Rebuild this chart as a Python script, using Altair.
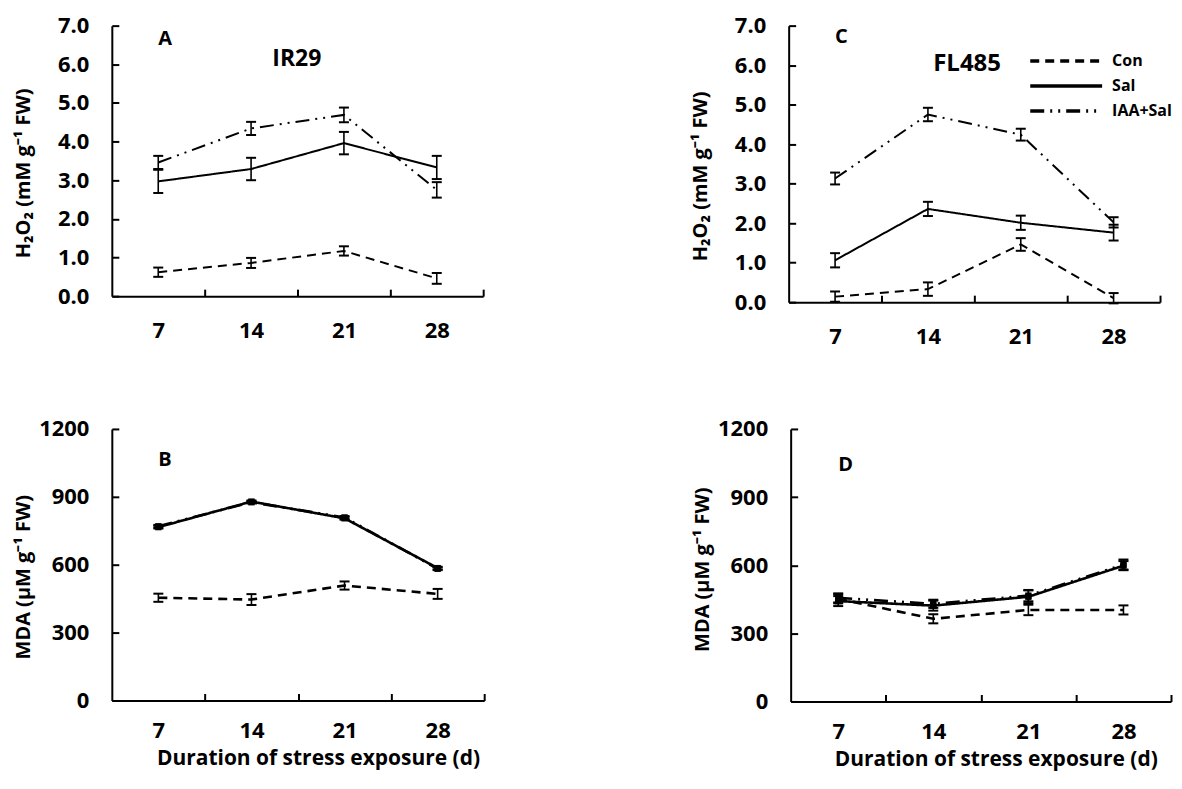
import altair as alt
import pandas as pd

days = [7, 14, 21, 28]
series = ["Con", "Sal", "IAA+Sal"]
x_boundaries = [10.5, 17.5, 24.5, 31.5]

# Panel A: IR29, H2O2 (mM g-1 FW)
a_con = [0.62, 0.86, 1.17, 0.46]
a_con_err = [0.12, 0.13, 0.12, 0.14]
a_sal = [2.97, 3.29, 3.96, 3.33]
a_sal_err = [0.30, 0.29, 0.29, 0.30]
a_iaa = [3.46, 4.34, 4.69, 2.75]
a_iaa_err = [0.17, 0.17, 0.19, 0.20]

# Panel C: FL485, H2O2
c_con = [0.14, 0.33, 1.46, 0.10]
c_con_err = [0.13, 0.17, 0.16, 0.13]
c_sal = [1.06, 2.36, 2.01, 1.76]
c_sal_err = [0.18, 0.18, 0.18, 0.20]
c_iaa = [3.13, 4.75, 4.24, 2.02]
c_iaa_err = [0.15, 0.17, 0.15, 0.13]

# Panel B: IR29, MDA (uM g-1 FW)
b_con = [454, 446, 508, 471]
b_con_err = [18, 24, 18, 22]
b_sal = [766, 879, 805, 585]
b_sal_err = [6, 5, 6, 6]
b_iaa = [770, 876, 809, 582]
b_iaa_err = [6, 5, 6, 6]

# Panel D: FL485, MDA
d_con = [452, 364, 403, 403]
d_con_err = [20, 20, 23, 20]
d_sal = [442, 422, 461, 598]
d_sal_err = [22, 22, 28, 20]
d_iaa = [456, 430, 466, 603]
d_iaa_err = [20, 18, 25, 22]

# Panel annotations (data coordinates)
notes_a = pd.DataFrame({"x": [7, 15.6], "y": [6.65, 6.14], "t": ["A", "IR29"], "fs": [20, 23]})
notes_c = pd.DataFrame({"x": [7, 14.4], "y": [6.7, 6.04], "t": ["C", "FL485"], "fs": [20, 24]})
notes_b = pd.DataFrame({"x": [7], "y": [1063], "t": ["B"], "fs": [20]})
notes_d = pd.DataFrame({"x": [7], "y": [1040], "t": ["D"], "fs": [20]})

FONT = "Open Sans"
dash_scale = alt.Scale(domain=series, range=[[9, 6], [1, 0], [14, 6, 2, 6, 2, 6]])


def long_df(vals, errs):
    rows = []
    for s, v, e in zip(series, vals, errs):
        for d, vv, ee in zip(days, v, e):
            rows.append({"day": d, "series": s, "value": vv, "lo": vv - ee, "hi": vv + ee})
    return pd.DataFrame(rows)


def caps_df(df):
    lo = df[["day", "series", "lo"]].rename(columns={"lo": "cap"})
    hi = df[["day", "series", "hi"]].rename(columns={"hi": "cap"})
    return pd.concat([lo, hi], ignore_index=True)


def panel(df, notes, w, h, ymax, ystep, yfmt, ytitle, ytitle_shift, xtitle=None,
          xtitle_shift=0, legend=None, markers=False, lw=2.0, xlab_pad=24):
    xs = alt.Scale(domain=[3.5, 31.5], nice=False, zero=False)
    ys = alt.Scale(domain=[0, ymax], nice=False, zero=True)
    yvals = [i * ystep for i in range(int(round(ymax / ystep)) + 1)]
    x_axis_kw = dict(values=days, ticks=False, tickSize=0, labelPadding=xlab_pad,
                     labelFontSize=22, labelFlush=False, domainWidth=2, grid=False)
    if xtitle:
        x_axis_kw.update(titleFontSize=21, titlePadding=6, titleX=w / 2 + xtitle_shift)
    x_main = alt.X("day:Q", scale=xs, axis=alt.Axis(**x_axis_kw), title=xtitle)
    y_main = alt.Y("value:Q", scale=ys, title=ytitle,
                   axis=alt.Axis(values=yvals, format=yfmt, ticks=False, tickSize=0,
                                 labelPadding=23, labelFontSize=22, domainWidth=2,
                                 grid=False, minExtent=76, maxExtent=76,
                                 titlePadding=2, titleFontSize=20,
                                 titleY=h / 2 + ytitle_shift))
    dash = alt.StrokeDash("series:N", scale=dash_scale, legend=legend)
    lines = alt.Chart(df).mark_line(color="black", strokeWidth=lw).encode(
        x=x_main, y=y_main, strokeDash=dash)
    x_tick = alt.X("day:Q", scale=xs, title=None,
                   axis=alt.Axis(orient="top", offset=-h, values=x_boundaries, labels=False,
                                 domain=False, tickSize=7, tickWidth=2, grid=False))
    y_tick = alt.Y("lo:Q", scale=ys, title=None,
                   axis=alt.Axis(orient="right", offset=-w, values=yvals, labels=False,
                                 domain=False, tickSize=7, tickWidth=2, grid=False))
    stems = alt.Chart(df).mark_rule(color="black", strokeWidth=1.6).encode(
        x=x_tick, y=y_tick, y2="hi:Q")
    caps = alt.Chart(caps_df(df)).mark_tick(color="black", orient="horizontal", size=10,
                                            thickness=2, opacity=1).encode(
        x=alt.X("day:Q", scale=xs, axis=None), y=alt.Y("cap:Q", scale=ys, axis=None))
    layers = [lines, stems, caps]
    if markers:
        mk = alt.Chart(df[df.series != "Con"]).mark_square(color="black", size=40, opacity=1).encode(
            x=alt.X("day:Q", scale=xs, axis=None), y=alt.Y("value:Q", scale=ys, axis=None))
        layers.append(mk)
    txt = alt.Chart(notes).mark_text(align="left", baseline="middle", font=FONT,
                                     fontWeight="bold", color="black").encode(
        x=alt.X("x:Q", scale=xs, axis=None), y=alt.Y("y:Q", scale=ys, axis=None),
        text="t:N", size=alt.Size("fs:Q", scale=None, legend=None))
    layers.append(txt)
    return alt.layer(*layers).properties(width=w, height=h).resolve_axis(
        x="independent", y="independent")


legend_c = alt.Legend(title=None, orient="none", legendX=240, legendY=23,
                      symbolType="stroke", symbolSize=5184, symbolStrokeWidth=3.5,
                      symbolStrokeColor="black", labelFont=FONT, labelFontSize=16,
                      labelFontWeight="bold", labelColor="black", labelOffset=8,
                      clipHeight=25, padding=0, rowPadding=0)

h2o2_title = "H\u2082O\u2082 (mM g\u207b\u00b9 FW)"
mda_title = "MDA (\u00b5M g\u207b\u00b9 FW)"
x_title = "Duration of stress exposure (d)"

pA = panel(long_df([a_con, a_sal, a_iaa], [a_con_err, a_sal_err, a_iaa_err]), notes_a,
           372, 271, 7, 1, ".1f", h2o2_title, 12)
pC = panel(long_df([c_con, c_sal, c_iaa], [c_con_err, c_sal_err, c_iaa_err]), notes_c,
           372, 277, 7, 1, ".1f", h2o2_title, 12, legend=legend_c)
pB = panel(long_df([b_con, b_sal, b_iaa], [b_con_err, b_sal_err, b_iaa_err]), notes_b,
           373, 272, 1200, 300, "d", mda_title, 12, xtitle=x_title, xtitle_shift=20,
           markers=True, lw=2.6, xlab_pad=20)
pD = panel(long_df([d_con, d_sal, d_iaa], [d_con_err, d_sal_err, d_iaa_err]), notes_d,
           381, 273, 1200, 300, "d", mda_title, 4, xtitle=x_title, xtitle_shift=15,
           markers=True, lw=2.6, xlab_pad=20)

row1 = alt.hconcat(pA, pC, spacing=207).resolve_scale(strokeDash="independent")
row2 = alt.hconcat(pB, pD, spacing=208).resolve_scale(strokeDash="independent")

chart = alt.vconcat(row1, row2, spacing=71).resolve_scale(
    strokeDash="independent"
).properties(
    padding={"left": 6, "top": 6, "right": 2, "bottom": 3}
).configure(font=FONT).configure_view(strokeWidth=0).configure_axis(
    labelFont=FONT, titleFont=FONT, labelFontWeight="bold", titleFontWeight="bold",
    labelColor="black", titleColor="black", domainColor="black", tickColor="black"
)

chart.save("out.html", embed_options={"renderer": "svg", "actions": False})
